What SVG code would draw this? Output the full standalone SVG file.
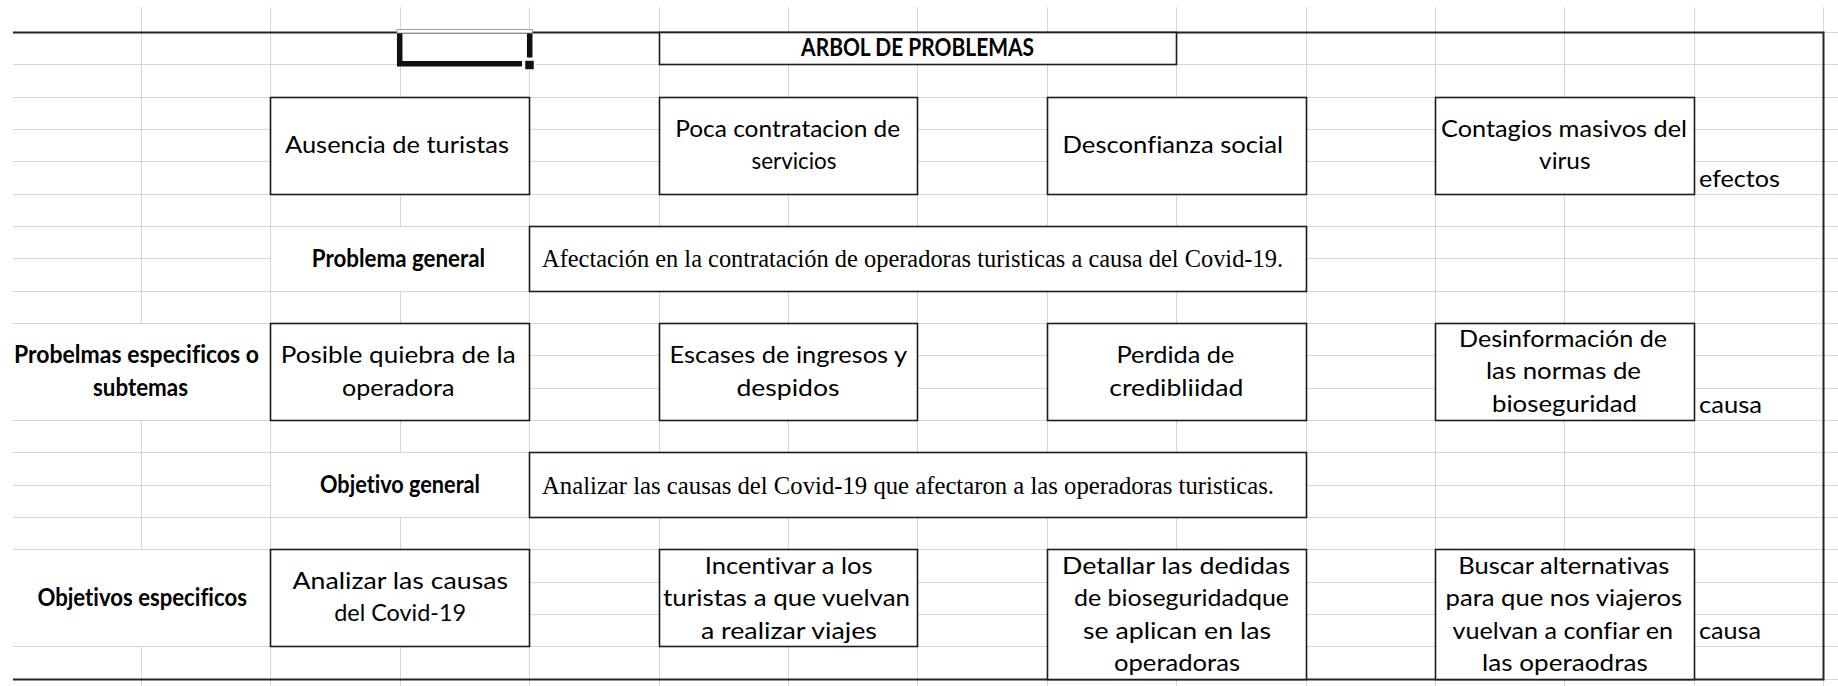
<svg xmlns="http://www.w3.org/2000/svg" width="1838" height="686" viewBox="0 0 1838 686">
<style>
.grid{stroke:#d6d6d6;stroke-width:1;fill:none}
.box{fill:#fff;stroke:#1c1c1c;stroke-width:1.6}
.blank{fill:#fff;stroke:none}
text{font-variant-ligatures:none;font-feature-settings:"liga" 0}
.t{font-family:Lato,"Liberation Sans",sans-serif;font-size:24px;fill:#000;text-anchor:middle}
.b{font-family:Lato,"Liberation Sans",sans-serif;font-size:24px;font-weight:bold;fill:#000;text-anchor:middle}
.l{font-family:Lato,"Liberation Sans",sans-serif;font-size:24px;fill:#000}
.s{font-family:"Liberation Serif","Times New Roman",serif;font-size:24.5px;fill:#000}
</style>
<rect x="0" y="0" width="1838" height="686" fill="#fff"/>
<g id="grid">
<path class="grid" d="M141.5,7V686M270.5,7V686M400.5,7V686M529.5,7V686M659.5,7V686M788.5,7V686M917.5,7V686M1047.5,7V686M1176.5,7V686M1306.5,7V686M1435.5,7V686M1564.5,7V686M1694.5,7V686M1823.5,7V686"/>
<path class="grid" d="M13,64.5H1838M13,97.5H1838M13,129.5H1838M13,161.5H1838M13,194.5H1838M13,226.5H1838M13,258.5H1838M13,291.5H1838M13,323.5H1838M13,355.5H1838M13,388.5H1838M13,420.5H1838M13,452.5H1838M13,485.5H1838M13,517.5H1838M13,549.5H1838M13,582.5H1838M13,614.5H1838M13,646.5H1838M1823,32.5H1838M1823,679.5H1838"/>
<rect class="blank" x="271" y="227" width="258" height="64"/>
<rect class="blank" x="271" y="453" width="258" height="64"/>
<rect class="blank" x="12" y="324" width="258" height="96"/>
<rect class="blank" x="12" y="550" width="258" height="96"/>
</g>
<g id="frame">
<path d="M13,32.5H1823.5V679.5H13" fill="none" stroke="#262626" stroke-width="2"/>
</g>
<g id="selection">
<rect x="397" y="29.5" width="135.5" height="3.5" fill="#fff" stroke="#8a8a8a" stroke-width="0.8"/>
<path d="M399.7,33.5V63.7H522M529.7,33.5V57.5" fill="none" stroke="#111" stroke-width="5.5"/>
<rect x="524.5" y="60" width="10" height="10" fill="#111" stroke="#fff" stroke-width="1.5"/>
</g>
<g id="title">
<rect class="box" x="659.5" y="32.5" width="517" height="32"/>
<text class="b" x="917.6" y="56.3" textLength="233" lengthAdjust="spacingAndGlyphs">ARBOL DE PROBLEMAS</text>
</g>
<g id="efecto1">
<rect class="box" x="270.5" y="97.5" width="259" height="97"/>
<text class="t" x="397" y="152.8" textLength="224" lengthAdjust="spacingAndGlyphs">Ausencia de turistas</text>
</g>
<g id="efecto2">
<rect class="box" x="659.5" y="97.5" width="258" height="97"/>
<text class="t" x="787.7" y="136.7" textLength="225" lengthAdjust="spacingAndGlyphs">Poca contratacion de</text>
<text class="t" x="794" y="169" textLength="85" lengthAdjust="spacingAndGlyphs">servicios</text>
</g>
<g id="efecto3">
<rect class="box" x="1047.5" y="97.5" width="259" height="97"/>
<text class="t" x="1172.8" y="152.8" textLength="220.5" lengthAdjust="spacingAndGlyphs">Desconfianza social</text>
</g>
<g id="efecto4">
<rect class="box" x="1435.5" y="97.5" width="259" height="97"/>
<text class="t" x="1564" y="136.7" textLength="246" lengthAdjust="spacingAndGlyphs">Contagios masivos del</text>
<text class="t" x="1564.8" y="169" textLength="51.5" lengthAdjust="spacingAndGlyphs">virus</text>
</g>
<g id="lbl-efectos">
<text class="l" x="1699" y="186.7" textLength="81" lengthAdjust="spacingAndGlyphs">efectos</text>
</g>
<g id="lbl-problema-general">
<text class="b" x="398.4" y="266.6" textLength="173.3" lengthAdjust="spacingAndGlyphs">Problema general</text>
</g>
<g id="problema-general">
<rect class="box" x="529.5" y="226.5" width="777" height="65"/>
<text class="s" x="542" y="267" textLength="741" lengthAdjust="spacingAndGlyphs">Afectación en la contratación de operadoras turisticas a causa del Covid-19.</text>
</g>
<g id="lbl-problemas-especificos">
<text class="b" x="136.5" y="363.2" textLength="245" lengthAdjust="spacingAndGlyphs">Probelmas especificos o</text>
<text class="b" x="140.5" y="395.5" textLength="95" lengthAdjust="spacingAndGlyphs">subtemas</text>
</g>
<g id="causa1">
<rect class="box" x="270.5" y="323.5" width="259" height="97"/>
<text class="t" x="398.2" y="363.2" textLength="235" lengthAdjust="spacingAndGlyphs">Posible quiebra de la</text>
<text class="t" x="398.2" y="395.5" textLength="112.5" lengthAdjust="spacingAndGlyphs">operadora</text>
</g>
<g id="causa2">
<rect class="box" x="659.5" y="323.5" width="258" height="97"/>
<text class="t" x="788.3" y="363.2" textLength="237.5" lengthAdjust="spacingAndGlyphs">Escases de ingresos y</text>
<text class="t" x="788" y="395.5" textLength="103" lengthAdjust="spacingAndGlyphs">despidos</text>
</g>
<g id="causa3">
<rect class="box" x="1047.5" y="323.5" width="259" height="97"/>
<text class="t" x="1175.5" y="363.2" textLength="118" lengthAdjust="spacingAndGlyphs">Perdida de</text>
<text class="t" x="1176.3" y="395.5" textLength="134" lengthAdjust="spacingAndGlyphs">credibliidad</text>
</g>
<g id="causa4">
<rect class="box" x="1435.5" y="323.5" width="259" height="97"/>
<text class="t" x="1563" y="347" textLength="208" lengthAdjust="spacingAndGlyphs">Desinformación de</text>
<text class="t" x="1563.5" y="379.4" textLength="155" lengthAdjust="spacingAndGlyphs">las normas de</text>
<text class="t" x="1564.5" y="411.7" textLength="145" lengthAdjust="spacingAndGlyphs">bioseguridad</text>
</g>
<g id="lbl-causa1">
<text class="l" x="1699" y="412.7" textLength="63" lengthAdjust="spacingAndGlyphs">causa</text>
</g>
<g id="lbl-objetivo-general">
<text class="b" x="400" y="492.8" textLength="160" lengthAdjust="spacingAndGlyphs">Objetivo general</text>
</g>
<g id="objetivo-general">
<rect class="box" x="529.5" y="452.5" width="777" height="65"/>
<text class="s" x="542" y="493.5" textLength="732" lengthAdjust="spacingAndGlyphs">Analizar las causas del Covid-19 que afectaron a las operadoras turisticas.</text>
</g>
<g id="lbl-objetivos-especificos">
<text class="b" x="142.2" y="605.7" textLength="209.5" lengthAdjust="spacingAndGlyphs">Objetivos especificos</text>
</g>
<g id="objetivo1">
<rect class="box" x="270.5" y="549.5" width="259" height="97"/>
<text class="t" x="400.3" y="589" textLength="215.5" lengthAdjust="spacingAndGlyphs">Analizar las causas</text>
<text class="t" x="400.2" y="621.3" textLength="132" lengthAdjust="spacingAndGlyphs">del Covid-19</text>
</g>
<g id="objetivo2">
<rect class="box" x="659.5" y="549.5" width="258" height="97"/>
<text class="t" x="788.7" y="573.9" textLength="168" lengthAdjust="spacingAndGlyphs">Incentivar a los</text>
<text class="t" x="786.5" y="606.2" textLength="247" lengthAdjust="spacingAndGlyphs">turistas a que vuelvan</text>
<text class="t" x="788.9" y="638.6" textLength="176" lengthAdjust="spacingAndGlyphs">a realizar viajes</text>
</g>
<g id="objetivo3">
<rect class="box" x="1047.5" y="549.5" width="259" height="130"/>
<text class="t" x="1176" y="573.9" textLength="228" lengthAdjust="spacingAndGlyphs">Detallar las dedidas</text>
<text class="t" x="1181.5" y="606.2" textLength="215" lengthAdjust="spacingAndGlyphs">de bioseguridadque</text>
<text class="t" x="1177" y="638.6" textLength="188" lengthAdjust="spacingAndGlyphs">se aplican en las</text>
<text class="t" x="1177" y="670.9" textLength="126" lengthAdjust="spacingAndGlyphs">operadoras</text>
</g>
<g id="objetivo4">
<rect class="box" x="1435.5" y="549.5" width="259" height="130"/>
<text class="t" x="1563.8" y="573.9" textLength="211" lengthAdjust="spacingAndGlyphs">Buscar alternativas</text>
<text class="t" x="1563.8" y="606.2" textLength="236.5" lengthAdjust="spacingAndGlyphs">para que nos viajeros</text>
<text class="t" x="1562.8" y="638.6" textLength="220.5" lengthAdjust="spacingAndGlyphs">vuelvan a confiar en</text>
<text class="t" x="1564.9" y="670.9" textLength="165.7" lengthAdjust="spacingAndGlyphs">las operaodras</text>
</g>
<g id="lbl-causa2">
<text class="l" x="1699" y="639" textLength="62" lengthAdjust="spacingAndGlyphs">causa</text>
</g>
<g id="connectors"></g>
</svg>
